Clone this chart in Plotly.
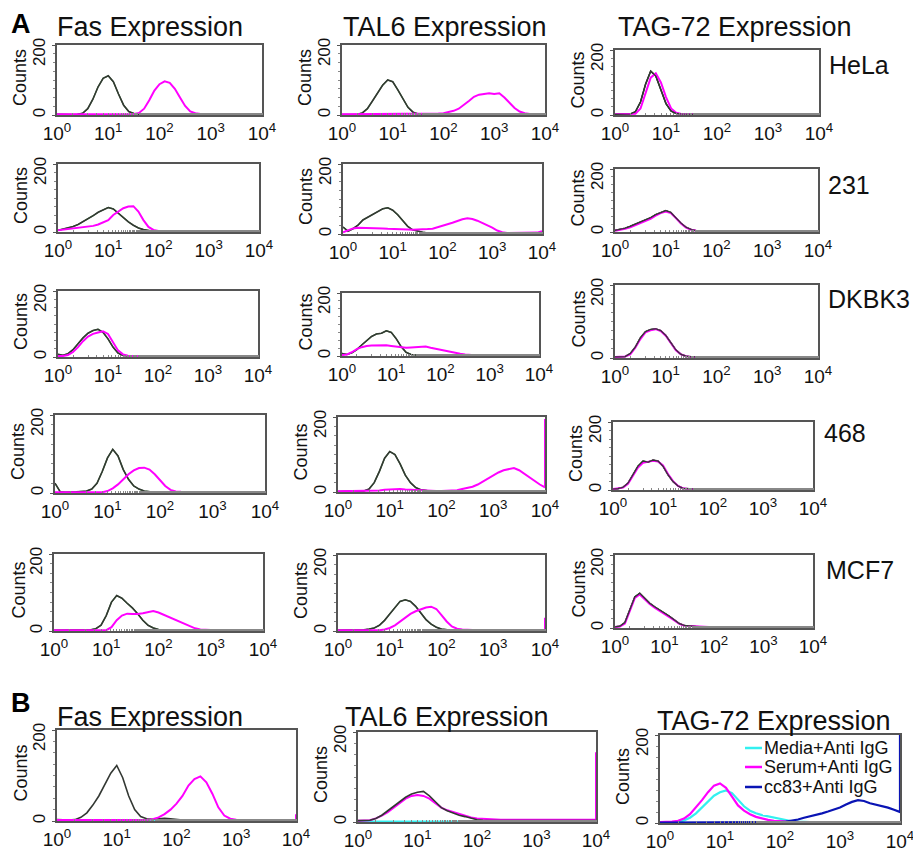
import plotly.graph_objects as go

W, H = 921, 852
OFF = 8  # the page body margin shifts the figure by this many pixels

# Channel positions (log10 of fluorescence), 0.1-decade bins
CHANNEL_EXP = [0.0, 0.1, 0.2, 0.3, 0.4, 0.5, 0.6, 0.7, 0.8, 0.9,
               1.0, 1.1, 1.2, 1.3, 1.4, 1.5, 1.6, 1.7, 1.8, 1.9,
               2.0, 2.1, 2.2, 2.3, 2.4, 2.5, 2.6, 2.7, 2.8, 2.9,
               3.0, 3.1, 3.2, 3.3, 3.4, 3.5, 3.6, 3.7, 3.8, 3.9, 4.0]

TICK_VALS = [1, 10, 100, 1000, 10000]
TICK_TEXT = ["10<sup>0</sup>", "10<sup>1</sup>", "10<sup>2</sup>", "10<sup>3</sup>", "10<sup>4</sup>"]
Y_TICK_VALS = [0, 200]
Y_TICK_TEXT = ["0", "200\u00a0\u00a0\u00a0\u00a0"]
Y_TITLE = "Counts"

MARKERS = ["Fas Expression", "TAL6 Expression", "TAG-72 Expression"]
CELL_LINES = ["HeLa", "231", "DKBK3", "468", "MCF7"]
LEGEND_NAMES = ["Media+Anti IgG", "Serum+Anti IgG", "cc83+Anti IgG"]

# ---- Panel A: control (grey) and antibody (magenta) counts per channel ----
# HeLa
hela_fas_ctrl = [2,1,1,1,2,5,18,45,80,105,112,95,60,28,10,4,2,2,1,1,1,1,1,1,1,1,1,1,1,1,1,1,1,1,1,1,1,1,1,1,1]
hela_fas_ab = [2,2,2,2,2,2,2,2,2,2,2,2,2,2,2,3,6,18,42,70,88,96,92,75,50,26,10,5,3,2,2,1,1,1,1,1,1,1,1,1,1]
hela_tal6_ctrl = [1,1,1,2,6,18,40,62,85,100,95,72,45,22,8,3,1,1,1,1,1,1,1,1,1,1,1,1,1,1,1,1,1,1,1,1,1,1,1,1,1]
hela_tal6_ab = [2,2,2,2,2,2,2,2,2,2,2,2,2,2,2,2,2,2,3,4,5,8,12,18,28,40,52,58,60,62,60,62,50,35,20,10,5,3,2,2,2]
hela_tag_ctrl = [2,2,2,3,10,40,95,135,120,75,35,12,5,3,2,2,2,2,2,2,2,2,2,2,2,2,2,2,2,2,2,2,2,2,2,2,2,2,2,2,2]
hela_tag_ab = [2,2,2,2,4,20,70,115,128,100,55,20,7,3,2,2,2,2,2,2,2,2,2,2,2,2,2,2,2,2,2,2,2,2,2,2,2,2,2,2,2]
# 231
c231_fas_ctrl = [5,8,12,16,22,30,38,48,58,66,72,68,55,42,30,20,12,7,4,2,2,2,2,2,2,2,2,2,2,2,2,2,2,2,2,2,2,2,2,2,2]
c231_fas_ab = [5,7,9,10,12,13,15,18,22,28,35,50,60,70,75,76,60,35,15,6,3,2,2,2,2,2,2,2,2,2,2,2,2,2,2,2,2,2,2,2,2]
c231_tal6_ctrl = [20,8,15,25,40,48,55,62,72,75,68,55,38,22,12,8,5,3,2,2,2,2,2,2,2,2,2,2,2,2,2,2,2,2,2,2,2,2,2,2,2]
c231_tal6_ab = [5,10,16,18,18,17,17,16,16,15,15,14,14,13,12,12,13,14,15,20,25,28,32,38,42,45,43,38,32,25,18,10,5,3,3,3,3,3,3,4,8]
c231_tag_ctrl = [5,8,12,18,25,32,38,45,55,62,68,62,45,28,15,8,4,3,2,2,2,2,2,2,2,2,2,2,2,2,2,2,2,2,2,2,2,2,2,2,2]
c231_tag_ab = [4,6,10,15,22,30,36,42,52,60,65,60,44,27,14,7,4,3,2,2,2,2,2,2,2,2,2,2,2,2,2,2,2,2,2,2,2,2,2,2,2]
# DKBK3
dkbk3_fas_ctrl = [8,5,10,22,40,58,72,80,84,75,55,30,12,5,3,2,2,2,2,2,2,2,2,2,2,2,2,2,2,2,2,2,2,2,2,2,2,2,2,2,2]
dkbk3_fas_ab = [3,3,6,15,30,48,62,70,74,78,70,45,20,8,4,3,3,3,3,3,3,3,3,3,3,3,3,3,3,3,3,3,3,3,3,3,3,3,3,3,3]
dkbk3_tal6_ctrl = [8,5,10,20,35,50,62,70,72,80,75,55,30,12,5,3,2,2,2,2,2,2,2,2,2,2,2,2,2,2,2,2,2,2,2,2,2,2,2,2,2]
dkbk3_tal6_ab = [3,5,12,22,28,32,33,34,35,34,32,30,28,26,27,28,28,30,26,22,20,17,13,10,7,5,3,2,2,2,2,2,2,2,2,2,2,2,2,2,2]
dkbk3_tag_ctrl = [3,3,4,12,30,55,72,78,80,75,62,42,22,10,5,3,3,3,3,3,3,3,3,3,3,3,3,3,3,3,3,3,3,3,3,3,3,3,3,3,3]
dkbk3_tag_ab = [3,3,4,10,28,52,70,76,79,74,61,41,21,10,5,3,3,3,3,3,3,3,3,3,3,3,3,3,3,3,3,3,3,3,3,3,3,3,3,3,3]
# 468
c468_fas_ctrl = [25,3,2,2,3,4,5,10,25,55,90,112,95,60,35,18,10,5,3,2,2,2,2,2,2,2,2,2,2,2,2,2,2,2,2,2,2,2,2,2,2]
c468_fas_ab = [2,2,2,2,2,2,2,2,2,2,5,12,22,35,48,58,64,65,60,48,32,18,8,4,3,2,2,2,2,2,2,2,2,2,2,2,2,2,2,2,2]
c468_tal6_ctrl = [1,1,1,1,2,3,8,25,55,90,108,100,75,45,25,12,6,3,2,2,2,2,2,2,2,2,2,2,2,2,2,2,2,2,2,2,2,2,2,2,2]
c468_tal6_ab = [2,2,2,2,2,2,2,2,4,6,7,8,8,7,6,5,4,4,3,3,3,3,4,5,8,10,14,20,28,38,45,52,58,62,64,58,48,40,30,20,12]
c468_tag_ctrl = [3,4,8,20,45,70,85,82,88,85,70,45,25,12,5,3,3,3,3,3,3,3,3,3,3,3,3,3,3,3,3,3,3,3,3,3,3,3,3,3,3]
c468_tag_ab = [3,4,7,18,42,66,80,84,86,84,72,47,26,12,5,3,3,3,3,3,3,3,3,3,3,3,3,3,3,3,3,3,3,3,3,3,3,3,3,3,3]
# MCF7
mcf7_fas_ctrl = [2,2,2,2,2,2,2,3,6,15,40,75,92,85,72,60,45,28,15,8,4,3,2,2,2,2,2,2,2,2,2,2,2,2,2,2,2,2,2,2,2]
mcf7_fas_ab = [2,2,2,2,2,2,2,2,2,2,2,10,28,40,45,44,44,46,50,52,48,42,38,32,25,18,12,7,4,3,2,2,2,2,2,2,2,2,2,2,2]
mcf7_tal6_ctrl = [2,2,2,2,2,3,5,8,15,28,45,62,78,82,78,65,48,30,18,10,5,3,2,2,2,2,2,2,2,2,2,2,2,2,2,2,2,2,2,2,2]
mcf7_tal6_ab = [2,2,2,2,2,2,2,2,2,4,8,15,25,35,45,52,58,62,64,58,42,25,12,6,4,3,2,2,2,2,2,2,2,2,2,2,2,2,2,2,2]
mcf7_tag_ctrl = [3,5,15,50,85,95,80,68,58,50,42,32,22,12,7,5,4,3,3,3,3,3,3,3,3,3,3,3,3,3,3,3,3,3,3,3,3,3,3,3,3]
mcf7_tag_ab = [3,4,12,45,82,92,78,66,56,48,40,30,21,11,6,5,4,3,3,3,3,3,3,3,3,3,3,3,3,3,3,3,3,3,3,3,3,3,3,3,3]

# overflow counts piled at the top channel (vertical edge line)
c468_tal6_ab_overflow = 195
mcf7_tal6_ab_overflow = 35

# ---- Panel B ----
b_fas_ctrl = [3,2,2,3,8,18,35,55,80,105,122,95,55,25,10,5,4,5,6,5,3,2,2,2,2,2,2,2,2,2,2,2,2,2,2,2,2,2,2,2,2]
b_fas_serum = [2,2,2,2,2,2,2,2,2,2,2,2,2,2,2,2,4,8,15,25,38,55,78,92,98,85,60,30,12,5,3,2,2,2,2,2,2,2,2,2,2]
b_fas_media = [1,1,1,1,1,1,1,1,1,1,1,1,1,1,1,1,1,1,1,1,1,1,1,1,1,1,1,1,1,1,1,1,1,1,1,1,1,1,1,1,1]
b_fas_serum_overflow = 15

b_tal6_ctrl = [3,3,4,8,15,25,35,45,55,62,66,68,58,45,32,25,20,15,12,8,5,4,3,3,3,3,3,3,3,3,3,3,3,3,3,3,3,3,3,3,3]
b_tal6_serum = [3,3,4,8,14,22,32,42,52,58,60,58,52,42,32,26,22,18,14,10,8,7,6,6,5,5,5,5,5,5,5,5,5,5,5,5,5,5,5,5,5]
b_tal6_media = [1,1,1,1,1,1,1,1,1,1,1,1,1,1,1,1,1,1,1,1,1,1,1,1,1,1,1,1,1,1,1,1,1,1,1,1,1,1,1,1,1]
b_tal6_serum_overflow = 155
b_tal6_media_overflow = 55

b_tag_media = [2,2,2,2,6,12,22,35,50,62,70,74,68,52,38,28,22,18,15,12,9,6,4,3,2,2,2,2,2,2,2,2,2,2,2,2,2,2,2,2,2]
b_tag_serum = [2,2,3,5,10,20,35,52,70,85,90,80,60,40,28,20,14,10,7,5,4,3,2,2,2,2,2,2,2,2,2,2,2,2,2,2,2,2,2,2,2]
b_tag_cc83 = [1,1,1,1,1,1,1,1,1,1,1,1,1,1,1,1,1,1,1,1,2,3,5,8,12,15,18,22,26,30,35,42,48,52,50,45,42,38,35,30,25]
b_tag_cc83_overflow = 200

# ---------------------------------------------------------------
CTRL = "#333833"
MAG = "#ff00ff"
CYAN = "#33f0f0"
BLUE = "#0a14b4"
FONT = "Liberation Sans, Arial, sans-serif"

CH = [10 ** e for e in CHANNEL_EXP]

fig = go.Figure()


def px(x):
    return (x - OFF) / W


def py(y):
    return 1 - (y - OFF) / H


def add_axes(idx, box):
    x0, x1, y0, y1 = box
    sfx = "" if idx == 1 else str(idx)
    fig.layout["xaxis" + sfx] = dict(
        domain=[px(x0), px(x1)], anchor="y" + sfx, type="log", range=[0, 4],
        tickvals=TICK_VALS, ticktext=TICK_TEXT, ticks="", automargin=False,
        tickfont=dict(size=19, color="#111", family=FONT),
        showline=True, mirror=True, linecolor="#555", linewidth=1.6,
        showgrid=False, zeroline=False, fixedrange=True,
        minor=dict(ticks="inside", ticklen=2, tickcolor="#888", tickwidth=1, showgrid=False),
    )
    fig.layout["yaxis" + sfx] = dict(
        domain=[py(y1), py(y0)], anchor="x" + sfx, range=[0, 200], automargin=False,
        tickvals=Y_TICK_VALS, ticktext=Y_TICK_TEXT, tickangle=-90,
        ticks="outside", ticklen=3, tickcolor="#555",
        tickfont=dict(size=17, color="#111", family=FONT),
        showline=True, mirror=True, linecolor="#555", linewidth=1.6,
        showgrid=False, zeroline=False, fixedrange=True,
        minor=dict(ticks="outside", ticklen=2, dtick=25, tick0=0, tickcolor="#888", showgrid=False),
    )
    ann.append(dict(text=Y_TITLE, textangle=-90, x=px(max(x0 - 37, 18)), y=py((y0 + y1) / 2 - 2),
                    xref="paper", yref="paper", showarrow=False,
                    xanchor="center", yanchor="middle",
                    font=dict(size=18, color="#111", family=FONT)))
    return "x" + sfx, "y" + sfx


def add_curve(axes, ys, color, width, overflow=None):
    xs = list(CH)
    yy = list(ys)
    if overflow is not None:
        xs.append(10 ** 4)
        yy.append(overflow)
    fig.add_trace(go.Scatter(
        x=xs, y=yy, mode="lines", xaxis=axes[0], yaxis=axes[1],
        line=dict(color=color, width=width, shape="linear"),
        showlegend=False, hoverinfo="skip",
    ))


ann = []
shapes = []

A_BOXES = [
    [(57, 262, 45, 115), (342, 545, 45, 115), (615, 819, 50, 115)],
    [(58, 259, 164, 232), (343, 542, 164, 234), (615, 818, 169, 232)],
    [(58, 258, 291, 357), (342, 539, 293, 356), (615, 818, 285, 358)],
    [(55, 265, 415, 493), (338, 545, 417, 492), (613, 813, 422, 490)],
    [(54, 263, 554, 631), (338, 545, 555, 631), (615, 813, 555, 628)],
]

A_DATA = [
    [(hela_fas_ctrl, hela_fas_ab, None), (hela_tal6_ctrl, hela_tal6_ab, None), (hela_tag_ctrl, hela_tag_ab, None)],
    [(c231_fas_ctrl, c231_fas_ab, None), (c231_tal6_ctrl, c231_tal6_ab, None), (c231_tag_ctrl, c231_tag_ab, None)],
    [(dkbk3_fas_ctrl, dkbk3_fas_ab, None), (dkbk3_tal6_ctrl, dkbk3_tal6_ab, None), (dkbk3_tag_ctrl, dkbk3_tag_ab, None)],
    [(c468_fas_ctrl, c468_fas_ab, None), (c468_tal6_ctrl, c468_tal6_ab, c468_tal6_ab_overflow), (c468_tag_ctrl, c468_tag_ab, None)],
    [(mcf7_fas_ctrl, mcf7_fas_ab, None), (mcf7_tal6_ctrl, mcf7_tal6_ab, mcf7_tal6_ab_overflow), (mcf7_tag_ctrl, mcf7_tag_ab, None)],
]

idx = 1
for r in range(5):
    for c in range(3):
        axes = add_axes(idx, A_BOXES[r][c])
        ctrl, ab, ov = A_DATA[r][c]
        add_curve(axes, ctrl, "#3f8f3a", 1.3)
        add_curve(axes, ctrl, CTRL, 1.6)
        add_curve(axes, ab, MAG, 2.0, overflow=ov)
        if c == 2:
            add_curve(axes, ctrl, CTRL, 1.2)
        idx += 1

B_BOXES = [(57, 296, 730, 821), (358, 596, 732, 822), (660, 900, 735, 823)]

axes = add_axes(idx, B_BOXES[0]); idx += 1
add_curve(axes, b_fas_media, CYAN, 2.0)
add_curve(axes, b_fas_ctrl, CTRL, 1.6)
add_curve(axes, b_fas_serum, MAG, 2.0, overflow=b_fas_serum_overflow)

axes = add_axes(idx, B_BOXES[1]); idx += 1
add_curve(axes, b_tal6_media, CYAN, 2.0, overflow=b_tal6_media_overflow)
add_curve(axes, b_tal6_serum, MAG, 2.0, overflow=b_tal6_serum_overflow)
add_curve(axes, b_tal6_ctrl, CTRL, 1.6)

axes = add_axes(idx, B_BOXES[2]); idx += 1
add_curve(axes, b_tag_media, CYAN, 2.2)
add_curve(axes, b_tag_serum, MAG, 2.2)
add_curve(axes, b_tag_cc83, BLUE, 2.2, overflow=b_tag_cc83_overflow)

A_TITLE_POS = [(150, 27), (445, 27), (735, 27)]
for t, (x, y) in zip(MARKERS, A_TITLE_POS):
    ann.append(dict(text=t, x=px(x), y=py(y), xref="paper", yref="paper",
                    showarrow=False, xanchor="center", yanchor="middle",
                    font=dict(size=27, color="#111", family=FONT)))
B_TITLE_POS = [(150, 717), (447, 717), (774, 721)]
for t, (x, y) in zip(MARKERS, B_TITLE_POS):
    ann.append(dict(text=t, x=px(x), y=py(y), xref="paper", yref="paper",
                    showarrow=False, xanchor="center", yanchor="middle",
                    font=dict(size=27, color="#111", family=FONT)))
CELL_POS = [(827, 65), (826, 185), (826, 299), (822, 433), (824, 570)]
for t, (x, y) in zip(CELL_LINES, CELL_POS):
    ann.append(dict(text=t, x=px(x), y=py(y), xref="paper", yref="paper",
                    showarrow=False, xanchor="left", yanchor="middle",
                    font=dict(size=25, color="#111", family=FONT)))
for t, (x, y) in [("A", (9, 24)), ("B", (9, 703))]:
    ann.append(dict(text="<b>" + t + "</b>", x=px(x), y=py(y), xref="paper", yref="paper",
                    showarrow=False, xanchor="left", yanchor="middle",
                    font=dict(size=27, color="#000", family=FONT)))

# legend drawn inside the TAG-72 (B) panel
LEG_COLORS = [CYAN, MAG, BLUE]
LEG_Y = [748, 767, 787]
for name, col, y in zip(LEGEND_NAMES, LEG_COLORS, LEG_Y):
    shapes.append(dict(type="line", xref="paper", yref="paper",
                       x0=px(745), x1=px(762), y0=py(y), y1=py(y),
                       line=dict(color=col, width=2.5)))
    ann.append(dict(text=name, x=px(762), y=py(y), xref="paper", yref="paper",
                    showarrow=False, xanchor="left", yanchor="middle",
                    font=dict(size=18, color="#111", family=FONT)))

fig.update_layout(
    width=W, height=H, margin=dict(l=0, r=0, t=0, b=0, autoexpand=False),
    paper_bgcolor="white", plot_bgcolor="white",
    annotations=ann, shapes=shapes,
    showlegend=False,
)

fig.write_html("out.html")
